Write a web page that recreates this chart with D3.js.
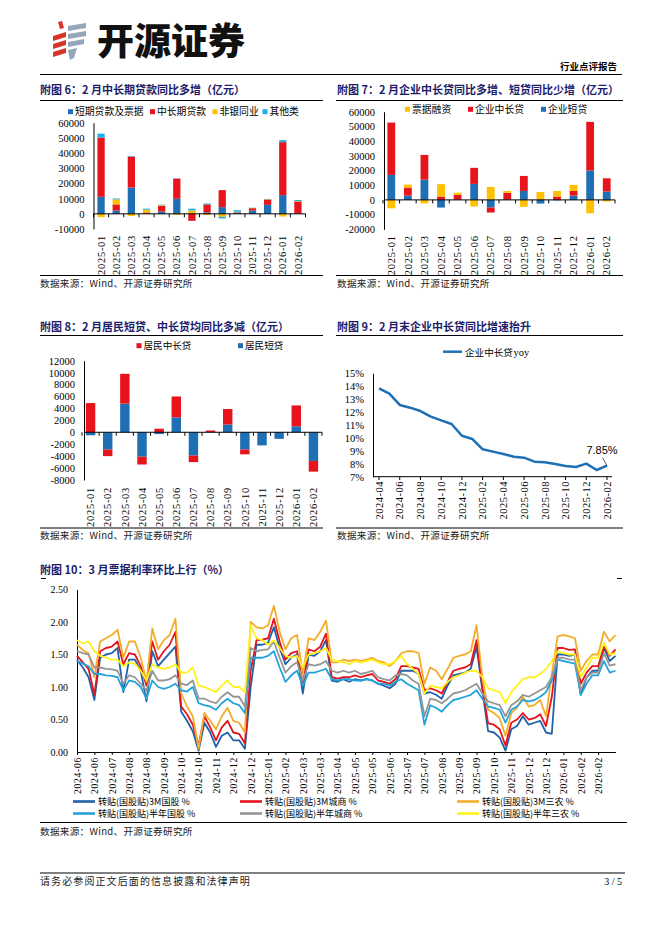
<!DOCTYPE html>
<html>
<head>
<meta charset="utf-8">
<script src="https://cdn.jsdelivr.net/npm/d3@7"></script>
<style>
body { margin: 0; background: #fff; }
</style>
</head>
<body>
<script>
// ---- data ----
var months14 = ["2025-01", "2025-02", "2025-03", "2025-04", "2025-05", "2025-06", "2025-07",
  "2025-08", "2025-09", "2025-10", "2025-11", "2025-12", "2026-01", "2026-02"];

// fig 6 (亿元)
var c6Short = [11200, 2200, 17300, 300, 1500, 9900, 200, 1000, 4400, 800, 2200, 5900, 12300, 300];
var c6MidLong = [39000, 4000, 20400, 600, 3800, 13300, -4600, 5200, 11200, 300, 1500, 3500, 34900, 7800];
var c6NonBank = [-2200, 3300, -1500, 1800, 400, -700, 2000, -800, -2000, 300, 100, 200, -1800, 300];
var c6Other = [2600, 600, 300, 700, 300, 200, 1200, 600, -1000, 1000, 200, 200, 1300, 700];

// fig 7 (亿元)
var c7Short = [17000, 2900, 13800, -5200, 200, 10900, -5200, 200, 6100, -2500, -300, 2900, 20000, 5700];
var c7MidLong = [35600, 5500, 16800, 2300, 3300, 10900, -3400, 4600, 10200, 300, 2300, 3200, 33100, 9000];
var c7Bills = [-5700, 2000, -2300, 8400, 1400, -4500, 8800, 1300, -4700, 5100, 3800, 4100, -9100, -1100];

// fig 8 (亿元)
var c8Short = [-500, -2900, 4800, -4100, -300, 2500, -3900, 50, 1300, -2900, -2200, -1100, 1000, -4800];
var c8MidLong = [4900, -1100, 5000, -1300, 600, 3500, -1100, 250, 2600, -800, 0, 0, 3500, -1800];

// fig 9 (%)
var c9Months = ["2024-04", "2024-05", "2024-06", "2024-07", "2024-08", "2024-09", "2024-10", "2024-11",
  "2024-12", "2025-01", "2025-02", "2025-03", "2025-04", "2025-05", "2025-06", "2025-07", "2025-08",
  "2025-09", "2025-10", "2025-11", "2025-12", "2026-01", "2026-02"];
var c9Yoy = [13.84, 13.43, 12.55, 12.34, 12.08, 11.65, 11.36, 11.08, 10.17, 9.92, 9.12, 8.94, 8.76,
  8.55, 8.47, 8.16, 8.11, 7.98, 7.83, 7.75, 8.01, 7.52, 7.85];

// fig 10 (%), one value every ~5 trading days
var c10Ticks = ["2024-06", "2024-06", "2024-07", "2024-08", "2024-08", "2024-09", "2024-10", "2024-10",
  "2024-11", "2024-12", "2024-12", "2025-01", "2025-02", "2025-03", "2025-03", "2025-04", "2025-05",
  "2025-05", "2025-06", "2025-07", "2025-07", "2025-08", "2025-09", "2025-09", "2025-10", "2025-11",
  "2025-12", "2025-12", "2026-01", "2026-02", "2026-02"];
var c10GuoGu3M = [1.42,1.30,1.15,0.80,1.45,1.50,1.52,1.60,0.92,1.42, 1.42,1.25,0.78,1.55,1.32,1.42,1.52,1.62,0.62,0.48,
  0.32,0.02,0.45,0.30,0.08,0.25,0.30,0.18,0.18,0.05, 1.00,1.65,1.65,1.68,1.92,1.60,1.35,1.45,1.50,0.90,
  1.50,1.48,1.55,1.72,1.10,1.08,1.12,1.08,1.12,1.10, 1.12,1.10,1.05,1.02,0.98,1.05,1.25,1.25,1.25,1.20,
  0.90,0.92,0.88,0.82,1.02,1.18,1.20,1.22,1.28,1.62, 0.95,0.32,0.30,0.22,0.02,0.35,0.40,0.55,0.42,0.45,
  0.48,0.30,0.28,1.50,1.50,1.48,1.50,0.88,1.15,1.25, 1.25,1.60,1.40,1.48];
var c10ChengShang3M = [1.48,1.38,1.28,0.88,1.55,1.60,1.62,1.70,1.35,1.52, 1.50,1.32,1.02,1.70,1.42,1.55,1.65,1.85,0.70,0.58,
  0.42,0.10,0.55,0.38,0.18,0.38,0.48,0.30,0.28,0.13, 1.25,1.72,1.73,1.75,2.05,1.70,1.42,1.52,1.55,1.05,
  1.58,1.55,1.62,1.82,1.15,1.13,1.15,1.15,1.18,1.15, 1.18,1.20,1.10,1.08,1.05,1.12,1.32,1.32,1.30,1.28,
  0.95,0.98,0.95,0.90,1.08,1.25,1.28,1.30,1.35,1.72, 1.00,0.44,0.42,0.35,0.10,0.45,0.50,0.60,0.50,0.52,
  0.58,0.40,0.85,1.60,1.60,1.57,1.58,1.05,1.22,1.32, 1.32,1.62,1.48,1.58];
var c10SanNong3M = [1.65,1.57,1.52,1.15,1.70,1.75,1.80,1.88,1.45,1.70, 1.70,1.45,1.08,1.90,1.58,1.72,1.80,2.05,0.90,0.70,
  0.55,0.05,0.60,0.48,0.35,0.55,0.68,0.48,0.45,0.30, 2.00,1.92,1.90,1.95,2.25,1.85,1.58,1.75,1.80,1.20,
  1.75,1.72,1.85,2.02,1.38,1.38,1.42,1.40,1.42,1.40, 1.42,1.45,1.40,1.38,1.32,1.40,1.52,1.55,1.55,1.52,
  1.05,1.30,1.25,1.12,1.28,1.45,1.48,1.50,1.55,1.95, 1.15,0.65,0.60,0.52,0.25,0.60,0.68,0.85,0.70,0.72,
  0.80,0.55,1.20,1.78,1.80,1.78,1.75,1.25,1.40,1.50, 1.50,1.85,1.70,1.80];
var c10GuoGu6M = [1.40,1.36,1.32,1.20,1.20,1.18,1.17,1.15,0.95,1.10, 1.08,1.00,0.82,1.10,1.00,0.97,1.00,1.05,0.95,0.93,
  1.00,0.75,0.72,0.70,0.65,0.75,0.82,0.75,0.72,0.60, 1.45,1.45,1.45,1.48,1.55,1.30,1.08,1.18,1.25,1.02,
  1.22,1.22,1.25,1.28,1.12,1.10,1.12,1.12,1.10,1.10, 1.12,1.10,1.05,1.05,1.02,1.08,1.12,1.05,1.00,0.95,
  0.42,0.72,0.68,0.62,0.72,0.80,0.82,0.85,0.88,0.95, 0.82,0.70,0.68,0.65,0.45,0.65,0.70,0.80,0.78,0.80,
  0.85,0.92,1.10,1.42,1.40,1.38,1.36,0.88,1.05,1.18, 1.18,1.40,1.22,1.25];
var c10ChengShang6M = [1.55,1.52,1.50,1.30,1.30,1.28,1.27,1.25,1.05,1.18, 1.15,1.05,0.95,1.25,1.10,1.10,1.12,1.18,1.05,1.03,
  1.10,0.82,0.82,0.78,0.75,0.85,0.92,0.85,0.85,0.70, 1.60,1.55,1.57,1.58,1.70,1.45,1.22,1.32,1.38,1.10,
  1.35,1.33,1.35,1.40,1.25,1.22,1.25,1.22,1.25,1.20, 1.22,1.25,1.15,1.12,1.10,1.18,1.20,1.18,1.10,1.05,
  0.55,0.82,0.80,0.75,0.82,0.90,0.92,0.95,1.00,1.05, 0.90,0.78,0.75,0.72,0.55,0.72,0.78,0.88,0.85,0.90,
  0.95,1.00,1.15,1.45,1.45,1.42,1.42,0.95,1.15,1.22, 1.22,1.52,1.33,1.35];
var c10SanNong6M = [1.72,1.67,1.70,1.55,1.48,1.45,1.42,1.42,1.32,1.38, 1.36,1.25,1.10,1.35,1.30,1.28,1.30,1.35,1.22,1.22,
  1.30,1.02,1.00,0.96,0.92,1.02,1.10,1.00,1.00,0.92, 1.95,1.75,1.72,1.65,1.72,1.60,1.48,1.45,1.48,1.30,
  1.50,1.52,1.55,1.60,1.42,1.40,1.38,1.35,1.40,1.38, 1.40,1.42,1.38,1.35,1.35,1.40,1.48,1.35,1.28,1.20,
  0.90,1.02,1.00,0.98,1.08,1.15,1.18,1.22,1.25,1.25, 1.15,0.98,0.95,0.92,0.75,0.92,1.02,1.12,1.15,1.15,
  1.20,1.28,1.40,1.55,1.52,1.50,1.50,1.15,1.30,1.45, 1.45,1.68,1.50,1.52];

// ---- page ----
var SERIF = "'Liberation Serif', 'Times New Roman', serif";
var CJK = "'Noto Sans CJK SC', sans-serif";
var NAVY = "#1c1c6a";
var BLUE = "#1f6fb5", RED = "#e8141b", GOLD = "#ffc000", CYAN = "#1cb0e6";

var svg = d3.select("body").append("svg")
  .attr("width", 662).attr("height", 936)
  .style("display", "block");
svg.append("rect").attr("width", 662).attr("height", 936).attr("fill", "#fff");

function hline(x1, x2, y, w) {
  svg.append("line").attr("x1", x1).attr("x2", x2).attr("y1", y).attr("y2", y)
    .attr("stroke", "#000").attr("stroke-width", w || 1);
}
function txt(x, y, s, size, opts) {
  opts = opts || {};
  return svg.append("text").attr("x", x).attr("y", y).text(s)
    .attr("font-family", opts.family || CJK).attr("font-size", size)
    .attr("font-weight", opts.weight || "normal")
    .attr("fill", opts.fill || "#000")
    .attr("letter-spacing", opts.ls || 0)
    .attr("text-anchor", opts.anchor || "start");
}
function title(x, y, s) { txt(x, y, s, 11, { weight: "bold", fill: NAVY }); }
function source(x, y) { txt(x, y, "数据来源：Wind、开源证券研究所", 9.6, { fill: "#222", ls: 0.3 }); }

// header
var logo = svg.append("g");
[["M58,22L62,21L64,28L60,29Z"], ["M53,36L66,32L66,37L53,41Z"], ["M53,44L66,40L66,45L53,49Z"], ["M53,52L66,48L66,53L53,57Z"]]
  .forEach(function (p) { logo.append("path").attr("d", p[0]).attr("fill", "#d9342c"); });
[["M68,26L86,23L86,28L68,31Z"], ["M68,34L86,31L86,36L68,39Z"], ["M68,42L84,39L84,44L68,47Z"], ["M68,50L77,48L74,58L70,60Z"]]
  .forEach(function (p) { logo.append("path").attr("d", p[0]).attr("fill", "#93a7b9"); });
txt(97, 55, "开源证券", 37, { weight: 900, fill: "#111" });
txt(617, 70, "行业点评报告", 9.5, { weight: "bold", anchor: "end" });
hline(40, 622, 74.5, 1.2);

// ---- stacked bar helper ----
function stackedChart(cfg) {
  var rows = cfg.cats.map(function (c, i) {
    var r = { cat: c };
    cfg.keys.forEach(function (k, j) { r[k] = cfg.values[j][i]; });
    return r;
  });
  var x = d3.scaleBand().domain(cfg.cats).range(cfg.xRange)
    .paddingInner(cfg.pad).paddingOuter(cfg.pad / 2);
  var y = d3.scaleLinear().domain(cfg.yDomain).range(cfg.yRange);
  var layers = d3.stack().keys(cfg.keys).offset(d3.stackOffsetDiverging)(rows);
  var g = svg.append("g");

  g.selectAll("g.layer").data(layers).join("g").attr("class", "layer")
    .attr("fill", function (d, i) { return cfg.colors[i]; })
    .selectAll("rect").data(function (d) { return d; }).join("rect")
    .attr("x", function (d) { return x(d.data.cat); })
    .attr("width", x.bandwidth())
    .attr("y", function (d) { return y(Math.max(d[0], d[1])); })
    .attr("height", function (d) { return Math.abs(y(d[0]) - y(d[1])); });

  var ya = g.append("g").attr("transform", "translate(" + cfg.axisX + ",0)")
    .call(d3.axisLeft(y).tickValues(cfg.yTicks).tickSize(0).tickSizeOuter(0).tickPadding(9)
      .tickFormat(function (d) { return String(d); }));
  ya.attr("font-family", SERIF).attr("font-size", 10.5);
  ya.selectAll("text").attr("fill", "#000");
  ya.select(".domain").attr("stroke", "#000");

  // zero line with band ticks
  var y0 = y(0);
  g.append("line").attr("x1", cfg.axisX).attr("x2", cfg.xRange[1]).attr("y1", y0).attr("y2", y0)
    .attr("stroke", "#000");
  g.selectAll("line.bt").data(d3.range(cfg.cats.length + 1)).join("line").attr("class", "bt")
    .attr("x1", function (i) { return cfg.xRange[0] + i * x.step(); })
    .attr("x2", function (i) { return cfg.xRange[0] + i * x.step(); })
    .attr("y1", y0).attr("y2", y0 + 3.5).attr("stroke", "#000");

  // category labels at the bottom
  var yb = cfg.yRange[0] + cfg.labelGap;
  g.selectAll("text.cat").data(cfg.cats).join("text").attr("class", "cat")
    .attr("transform", function (c) {
      return "translate(" + (x(c) + x.bandwidth() / 2) + "," + yb + ") rotate(-90)";
    })
    .attr("dy", "0.35em").attr("text-anchor", "end")
    .attr("font-family", SERIF).attr("font-size", 10.5).attr("letter-spacing", 0.7)
    .text(function (c) { return c; });
}

function legendBox(x, y, color, label, size) {
  svg.append("rect").attr("x", x).attr("y", y - 2.5).attr("width", 5).attr("height", 5).attr("fill", color);
  txt(x + 7, y + 3.6, label, size || 9.8);
}

// ---- fig 6 ----
title(40, 93.5, "附图 6：2 月中长期贷款同比多增（亿元）");
hline(40, 323, 100.5);
legendBox(68, 111.7, BLUE, "短期贷款及票据");
legendBox(150, 111.7, RED, "中长期贷款");
legendBox(212.5, 111.7, GOLD, "非银同业");
legendBox(262.5, 111.7, CYAN, "其他类");
stackedChart({
  cats: months14, keys: ["short", "mid", "nonbank", "other"],
  values: [c6Short, c6MidLong, c6NonBank, c6Other],
  colors: [BLUE, RED, GOLD, CYAN],
  xRange: [93.5, 305.5], axisX: 93.5, pad: 0.52,
  yDomain: [-10000, 60000], yRange: [229, 122.7], yTicks: d3.range(-10000, 60001, 10000),
  labelGap: 6
});
hline(40, 323, 275.5);
source(40, 286.5);

// ---- fig 7 ----
title(337, 93.5, "附图 7：2 月企业中长贷同比多增、短贷同比少增（亿元）");
hline(336, 623, 100.5);
legendBox(405, 109.3, GOLD, "票据融资");
legendBox(468, 109.3, RED, "企业中长贷");
legendBox(541, 109.3, BLUE, "企业短贷");
stackedChart({
  cats: months14, keys: ["short", "mid", "bills"],
  values: [c7Short, c7MidLong, c7Bills],
  colors: [BLUE, RED, GOLD],
  xRange: [383, 615], axisX: 384, pad: 0.53,
  yDomain: [-20000, 60000], yRange: [229.3, 111.7], yTicks: d3.range(-20000, 60001, 10000),
  labelGap: 6
});
hline(336, 623, 275.5);
source(337, 286.5);

// ---- fig 8 ----
title(40, 331, "附图 8：2 月居民短贷、中长贷均同比多减（亿元）");
hline(40, 323, 335.5);
legendBox(136.5, 345.7, RED, "居民中长贷", 9.6);
legendBox(238, 345.7, BLUE, "居民短贷", 9.6);
stackedChart({
  cats: months14, keys: ["short", "mid"],
  values: [c8Short, c8MidLong],
  colors: [BLUE, RED],
  xRange: [82, 322], axisX: 84, pad: 0.45,
  yDomain: [-8000, 12000], yRange: [480, 360.7], yTicks: d3.range(-8000, 12001, 2000),
  labelGap: 7
});
hline(40, 323, 528);
source(40, 539);

// ---- fig 9 ----
title(337, 331, "附图 9：2 月末企业中长贷同比增速抬升");
hline(336, 623, 335.5);
svg.append("line").attr("x1", 443).attr("x2", 462).attr("y1", 351.7).attr("y2", 351.7)
  .attr("stroke", BLUE).attr("stroke-width", 2.5);
txt(465, 355.5, "企业中长贷", 9.6);
txt(513.5, 355.5, "yoy", 10.5, { family: SERIF });
(function () {
  var x = d3.scalePoint().domain(c9Months).range([379, 607]);
  var y = d3.scaleLinear().domain([7, 15]).range([476.7, 373.3]);
  var g = svg.append("g");
  var ya = g.append("g").attr("transform", "translate(373,0)")
    .call(d3.axisLeft(y).tickValues(d3.range(7, 16)).tickSize(0).tickSizeOuter(0).tickPadding(9)
      .tickFormat(function (d) { return d + "%"; }));
  ya.attr("font-family", SERIF).attr("font-size", 10.5);
  ya.selectAll("text").attr("fill", "#000");
  g.append("line").attr("x1", 373).attr("x2", 612).attr("y1", 476.7).attr("y2", 476.7).attr("stroke", "#000");
  var labelled = c9Months.filter(function (d, i) { return i % 2 === 0; });
  g.selectAll("line.t").data(labelled).join("line").attr("class", "t")
    .attr("x1", function (d) { return x(d); }).attr("x2", function (d) { return x(d); })
    .attr("y1", 476.7).attr("y2", 480).attr("stroke", "#000");
  g.selectAll("text.cat").data(labelled).join("text").attr("class", "cat")
    .attr("transform", function (d) { return "translate(" + x(d) + ",481) rotate(-90)"; })
    .attr("dy", "0.35em").attr("text-anchor", "end")
    .attr("font-family", SERIF).attr("font-size", 10.5).attr("letter-spacing", 0.5)
    .text(function (d) { return d; });
  g.append("path").datum(c9Yoy)
    .attr("d", d3.line().x(function (d, i) { return x(c9Months[i]); }).y(function (d) { return y(d); }))
    .attr("fill", "none").attr("stroke", BLUE).attr("stroke-width", 2.5).attr("stroke-linejoin", "round");
  var last = c9Yoy.length - 1;
  var lx = x(c9Months[last]), ly = y(c9Yoy[last]);
  g.append("line").attr("x1", lx - 4.5).attr("y1", ly - 8).attr("x2", lx).attr("y2", ly)
    .attr("stroke", "#333").attr("stroke-width", 0.8);
  g.append("text").attr("x", lx - 5).attr("y", ly - 12).attr("text-anchor", "middle")
    .attr("font-family", "'Liberation Sans', Arial, sans-serif").attr("font-size", 11)
    .text(c9Yoy[last].toFixed(2) + "%");
})();
hline(336, 623, 528);
source(337, 539);

// ---- fig 10 ----
title(40, 574, "附图 10：3 月票据利率环比上行（%）");
hline(41, 46, 578.5);
hline(617, 622, 578.5);
(function () {
  var series = [
    { name: "转贴(国股贴)3M国股 %", values: c10GuoGu3M, color: "#1f62a8" },
    { name: "转贴(国股贴)3M城商 %", values: c10ChengShang3M, color: "#e5141c" },
    { name: "转贴(国股贴)3M三农 %", values: c10SanNong3M, color: "#f2ae2b" },
    { name: "转贴(国股贴)半年国股 %", values: c10GuoGu6M, color: "#24a3db" },
    { name: "转贴(国股贴)半年城商 %", values: c10ChengShang6M, color: "#969696" },
    { name: "转贴(国股贴)半年三农 %", values: c10SanNong6M, color: "#fff21c" }
  ];
  var n = c10GuoGu3M.length;
  var x = d3.scaleLinear().domain([0, n - 1]).range([77, 615.5]);
  var y = d3.scaleLinear().domain([0, 2.5]).range([752, 589.5]);
  var g = svg.append("g");
  var ya = g.append("g").attr("transform", "translate(77,0)")
    .call(d3.axisLeft(y).tickValues(d3.range(0, 2.51, 0.5)).tickSize(0).tickSizeOuter(0).tickPadding(9)
      .tickFormat(d3.format(".2f")));
  ya.attr("font-family", SERIF).attr("font-size", 10);
  ya.selectAll("text").attr("fill", "#000");

  var line = d3.line().x(function (d, i) { return x(i); }).y(function (d) { return y(d); });
  g.selectAll("path.s").data(series).join("path").attr("class", "s")
    .attr("d", function (s) { return line(s.values); })
    .attr("fill", "none").attr("stroke", function (s) { return s.color; })
    .attr("stroke-width", 1.8).attr("stroke-linejoin", "round");

  var xa = g.append("g").attr("transform", "translate(0,752)")
    .call(d3.axisBottom(x).tickValues(d3.range(0, c10Ticks.length * 3, 3)).tickSize(3).tickSizeOuter(0)
      .tickFormat(function (i) { return c10Ticks[i / 3]; }));
  xa.attr("font-family", SERIF).attr("font-size", 9.6);
  xa.select(".domain").attr("stroke", "#000");
  xa.selectAll("text").attr("fill", "#000")
    .attr("transform", "rotate(-90)").attr("x", -5).attr("y", 0).attr("dy", "0.35em")
    .attr("letter-spacing", 0.7).style("text-anchor", "end");

  // legend, 3 columns x 2 rows
  var cols = [73, 240, 457], rows = [801.5, 813.5];
  series.forEach(function (s, k) {
    var cx = cols[k % 3], cy = rows[Math.floor(k / 3)];
    svg.append("line").attr("x1", cx).attr("x2", cx + 22).attr("y1", cy).attr("y2", cy)
      .attr("stroke", s.color).attr("stroke-width", 2.6);
    txt(cx + 25, cy + 3.3, s.name, 9);
  });
})();
hline(40, 627, 822.5);
source(40, 835);

// footer
hline(40, 625, 873, 1.2);
txt(40, 885, "请务必参阅正文后面的信息披露和法律声明", 10, { ls: 1.1, fill: "#222" });
txt(622, 885, "3 / 5", 10, { family: SERIF, anchor: "end" });
</script>
</body>
</html>
